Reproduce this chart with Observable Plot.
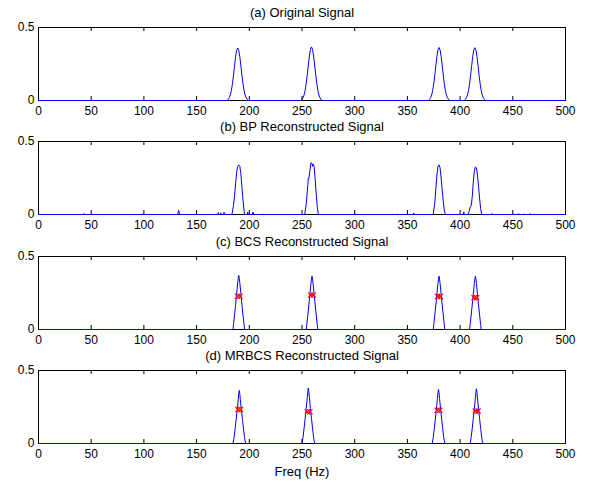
<!DOCTYPE html>
<html><head><meta charset="utf-8">
<script src="https://cdn.jsdelivr.net/npm/d3@7"></script>
<script src="https://cdn.jsdelivr.net/npm/@observablehq/plot@0.6"></script>
<style>body{margin:0;background:#fff;} #chart{width:595px;} #chart svg{display:block;}</style>
</head><body><div id="chart"></div><script>
const xTicks = [0, 50, 100, 150, 200, 250, 300, 350, 400, 450, 500];
const yTicks = [0, 0.5];
const yTickLabels = ["0", "0.5"];
const titles = ["(a) Original Signal", "(b) BP Reconstructed Signal", "(c) BCS Reconstructed Signal", "(d) MRBCS Reconstructed Signal"];
const xLabel = "Freq (Hz)";

// (a) original signal
const origFreq = [0,
  179,180,181,182,183,184,185,186,187,188,189,190,191,192,193,194,195,196,197,198,199,
  249,250,251,252,253,254,255,256,257,258,259,260,261,262,263,264,265,266,267,268,269,
  370,371,372,373,374,375,376,377,378,379,380,381,382,383,384,385,386,387,388,389,390,
  404,405,406,407,408,409,410,411,412,413,414,415,416,417,418,419,420,421,422,423,424,
  500];
const origAmp = [0,
  0,.009,.019,.038,.069,.114,.173,.238,.300,.344,.360,.344,.300,.238,.173,.114,.069,.038,.019,.009,0,
  0,.009,.019,.039,.070,.116,.176,.243,.305,.350,.367,.350,.305,.243,.176,.116,.070,.039,.019,.009,0,
  0,.009,.019,.038,.069,.115,.174,.240,.302,.347,.363,.347,.302,.240,.174,.115,.069,.038,.019,.009,0,
  0,.009,.019,.038,.069,.115,.174,.240,.302,.347,.362,.347,.302,.240,.174,.115,.069,.038,.019,.009,0,
  0];

// (b) BP reconstruction
const bpFreq = [0,
  42.5,43,43.5, 52,52.5,53, 98,98.5,99, 132,133,134,
  170,170.5,171, 172.5,173,173.5, 175.5,176,176.5,
  183.5,185,186,187,188,189,190,191,192,193,194,195,195.5,
  198,198.5,199, 203,203.5,204, 213,213.5,214,
  252.5,254,255.5,256,256.5,257.5,258.5,259.5,260,260.5,261.5,262.5,263.5,264.5,265.5,
  300,300.5,301, 340,340.5,341, 355.5,356,356.5,
  374.5,376,377,378,379,380,381,382,383,384,385,386,
  403,403.5,404,
  407.5,408.5,409.5,410.5,411.5,412.5,413.5,414.5,415.5,416.5,417.5,418.5,419.5,420.5,
  430,430.5,431, 455,455.5,456, 460,460.5,461, 466,466.5,467,
  500];
const bpAmp = [0,
  0,.006,0, 0,.004,0, 0,.003,0, 0,.028,0,
  0,.013,0, 0,.012,0, 0,.015,0,
  0,.06,.13,.21,.29,.33,.34,.33,.28,.19,.10,.03,0,
  0,.016,0, 0,.017,0, 0,.004,0,
  0,.07,.20,.25,.245,.30,.355,.35,.33,.345,.33,.24,.14,.05,0,
  0,.003,0, 0,.004,0, 0,.011,0,
  0,.08,.18,.27,.33,.34,.32,.25,.17,.09,.03,0,
  0,.018,0,
  0,.02,.05,.06,.12,.22,.30,.325,.32,.27,.19,.11,.04,0,
  0,.006,0, 0,.006,0, 0,.005,0, 0,.006,0,
  0];

// (c) BCS reconstruction
const bcsFreq = [0,
  184.5,185,186,187,188,189,189.5,190,190.5,191,192,193,194,195,195.5,
  254,254.5,255.5,256.5,257.5,258.5,259,259.5,260,260.5,261.5,262.5,263.5,264.5,265,
  374.5,375,376,377,378,379,379.5,380,380.5,381,382,383,384,385,385.5,
  409,409.5,410.5,411.5,412.5,413.5,414,414.5,415,415.5,416.5,417.5,418.5,419.5,420,
  500];
const bcsAmp = [0,
  0,.035,.10,.17,.245,.32,.35,.37,.35,.32,.245,.17,.10,.035,0,
  0,.034,.099,.168,.242,.316,.345,.365,.345,.316,.242,.168,.099,.034,0,
  0,.034,.099,.168,.242,.316,.345,.365,.345,.316,.242,.168,.099,.034,0,
  0,.034,.099,.168,.242,.316,.345,.365,.345,.316,.242,.168,.099,.034,0,
  0];
const bcsMarkFreq = [188.8, 191.2, 258.3, 260.7, 378.8, 381.2, 413.3, 415.7];
const bcsMarkAmp = [0.228, 0.228, 0.236, 0.236, 0.227, 0.227, 0.218, 0.218];

// (d) MRBCS reconstruction
const mrFreq = [0,
  184.5,185.5,186.5,187.5,188.5,189.5,190,190.5,191,191.5,192.5,193.5,194.5,195.5,196.5,
  250,251,252,253,254,255,255.5,256,256.5,257,258,259,260,261,262,
  373.5,374.5,375.5,376.5,377.5,378.5,379,379.5,380,380.5,381.5,382.5,383.5,384.5,385.5,
  409.5,410.5,411.5,412.5,413.5,414.5,415,415.5,416,416.5,417.5,418.5,419.5,420.5,421.5,
  500];
const mrAmp = [0,
  0,.04,.10,.165,.23,.30,.34,.364,.34,.30,.23,.165,.10,.04,0,
  0,.042,.105,.172,.24,.315,.355,.38,.355,.315,.24,.172,.105,.042,0,
  0,.04,.102,.168,.235,.307,.347,.37,.347,.307,.235,.168,.102,.04,0,
  0,.041,.103,.17,.238,.311,.35,.375,.35,.311,.238,.17,.103,.041,0,
  0];
const mrMarkFreq = [189.3, 191.7, 255.1, 257.5, 378.3, 380.7, 414.6, 417];
const mrMarkAmp = [0.233, 0.233, 0.217, 0.217, 0.228, 0.228, 0.222, 0.222];

const FONT = "'Liberation Sans', Arial, Helvetica, sans-serif";
const PLOT_H = 73, MT = 27;

function panel(title, freq, amp, markFreq, markAmp, height, isLast) {
  const rows = freq.map((f, i) => ({freq: f, amp: amp[i]}));
  const markRows = markFreq ? markFreq.map((f, i) => ({freq: f, amp: markAmp[i]})) : [];
  return Plot.plot({
    width: 595, height,
    marginLeft: 38, marginRight: 30, marginTop: MT, marginBottom: height - MT - PLOT_H,
    style: {fontFamily: FONT, fontSize: "12px", background: "#fff", color: "#000", overflow: "visible"},
    x: {domain: [0, 500]},
    y: {domain: [0, 0.5]},
    marks: [
      Plot.frame({stroke: "#000", strokeWidth: 1}),
      Plot.line(rows, {x: "freq", y: "amp", stroke: "#0000ff", strokeWidth: 1}),
      Plot.tickX(xTicks, {x: d => d, stroke: "#000", insetTop: PLOT_H - 4}),
      Plot.tickX(xTicks, {x: d => d, stroke: "#000", insetBottom: PLOT_H - 4}),
      Plot.axisX(xTicks, {tickSize: 0, tickPadding: 6, label: null, fill: "#000", fontSize: 12}),
      Plot.axisY(yTicks, {tickSize: 0, tickPadding: 4, label: null, fill: "#000", fontSize: 12,
        tickFormat: d => yTickLabels[yTicks.indexOf(d)]}),
      Plot.dot(markRows, {x: "freq", y: "amp", symbol: "times", r: 2.5, stroke: "#ff0000", strokeWidth: 1.2}),
      Plot.text([title], {text: d => d, frameAnchor: "top", lineAnchor: "middle", dy: -15, fontSize: 13, fill: "#000"}),
      isLast ? Plot.text([xLabel], {text: d => d, frameAnchor: "bottom", lineAnchor: "middle", dy: 28, fontSize: 13, fill: "#000"}) : null
    ]
  });
}

const chart = document.getElementById("chart");
chart.append(panel(titles[0], origFreq, origAmp, null, null, 114, false));
chart.append(panel(titles[1], bpFreq, bpAmp, null, null, 115, false));
chart.append(panel(titles[2], bcsFreq, bcsAmp, bcsMarkFreq, bcsMarkAmp, 114, false));
chart.append(panel(titles[3], mrFreq, mrAmp, mrMarkFreq, mrMarkAmp, 140, true));
</script></body></html>
